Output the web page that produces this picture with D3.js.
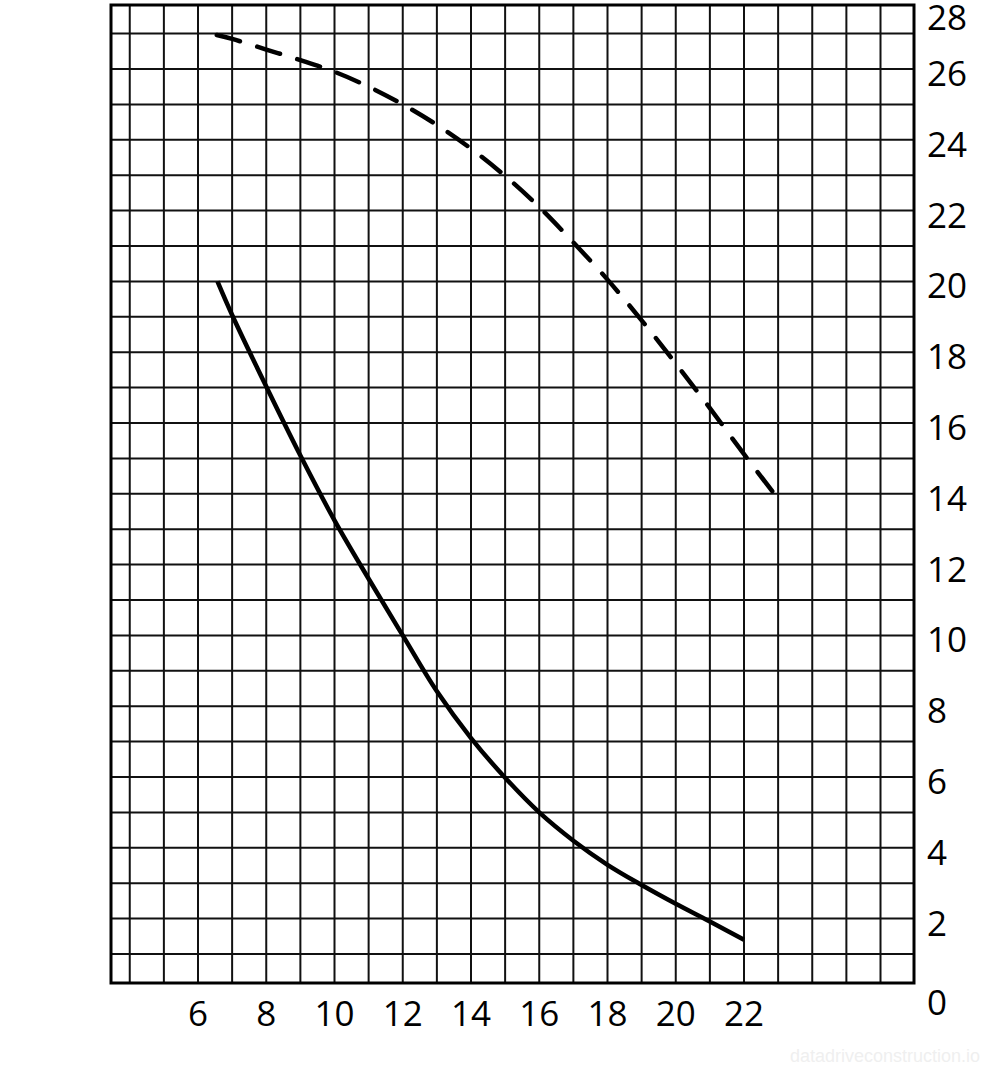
<!DOCTYPE html>
<html>
<head>
<meta charset="utf-8">
<script src="https://cdn.jsdelivr.net/npm/d3@7/dist/d3.min.js"></script>
<style>
    html, body { margin: 0; padding: 0; background: #ffffff; }
    #chart { width: 992px; height: 1072px; }
</style>
</head>
<body>
<div id="chart"></div>
<script>
// Values
const xTickLabels = [6, 8, 10, 12, 14, 16, 18, 20, 22];
const yTickLabels = [0, 2, 4, 6, 8, 10, 12, 14, 16, 18, 20, 22, 24, 26, 28];

// Solid curve
const solidX = [6.57, 7, 8, 9, 10, 11, 12, 13, 14, 15, 16, 17, 18, 19, 20, 21, 22];
const solidY = [20.0, 19.05, 17.03, 15.08, 13.25, 11.6, 10.0, 8.42, 7.1, 5.98, 5.0, 4.2, 3.52, 2.95, 2.42, 1.92, 1.4];

// Dashed curve
const dashedX = [6.55, 7, 8, 9, 10, 11, 12, 13, 14, 15, 16, 17, 18, 19, 20, 21, 22, 22.95];
const dashedY = [26.96, 26.85, 26.55, 26.25, 25.92, 25.5, 25.0, 24.42, 23.75, 22.98, 22.1, 21.1, 20.05, 18.9, 17.68, 16.42, 15.12, 13.92];

function drawChart() {
    const container = d3.select('#chart');
    container.selectAll('*').remove();

    const W = 992, H = 1072;
    // plot frame
    const frame = { left: 111, top: 5, right: 914, bottom: 983 };

    const svg = container.append('svg')
        .attr('width', W)
        .attr('height', H)
        .style('font-family', '"Open Sans", "Noto Sans", sans-serif');

    svg.append('rect')
        .attr('width', W)
        .attr('height', H)
        .attr('fill', '#ffffff');

    const x = d3.scaleLinear().domain([4, 26]).range([129.75, 880.5]);
    const y = d3.scaleLinear().domain([0, 28]).range([989.4, -1.8]);

    // Grid
    const grid = svg.append('g').attr('class', 'grid')
        .attr('stroke', '#111')
        .attr('stroke-width', 2);

    grid.selectAll('.vline')
        .data(d3.range(4, 27))
        .enter()
        .append('line')
        .attr('class', 'vline')
        .attr('x1', d => x(d))
        .attr('x2', d => x(d))
        .attr('y1', frame.top)
        .attr('y2', frame.bottom);

    grid.selectAll('.hline')
        .data(d3.range(1, 28))
        .enter()
        .append('line')
        .attr('class', 'hline')
        .attr('x1', frame.left)
        .attr('x2', frame.right)
        .attr('y1', d => y(d))
        .attr('y2', d => y(d));

    // Frame
    svg.append('rect')
        .attr('x', frame.left)
        .attr('y', frame.top)
        .attr('width', frame.right - frame.left)
        .attr('height', frame.bottom - frame.top)
        .attr('fill', 'none')
        .attr('stroke', '#000')
        .attr('stroke-width', 3);

    // Curves
    const line = d3.line()
        .x(d => x(d[0]))
        .y(d => y(d[1]))
        .curve(d3.curveCatmullRom.alpha(0.5));

    svg.append('path')
        .datum(solidX.map((v, i) => [v, solidY[i]]))
        .attr('d', line)
        .attr('fill', 'none')
        .attr('stroke', '#000')
        .attr('stroke-width', 4.5);

    svg.append('path')
        .datum(dashedX.map((v, i) => [v, dashedY[i]]))
        .attr('d', line)
        .attr('fill', 'none')
        .attr('stroke', '#000')
        .attr('stroke-width', 4.5)
        .attr('stroke-linecap', 'round')
        .attr('stroke-dasharray', '24,18');

    // X tick labels
    svg.selectAll('.xlabel')
        .data(xTickLabels)
        .enter()
        .append('text')
        .attr('class', 'xlabel')
        .attr('x', d => x(d))
        .attr('y', 1026)
        .attr('text-anchor', 'middle')
        .style('font-size', '35px')
        .style('fill', '#000')
        .text(d => d);

    // Y tick labels (right side)
    const labelY = v => v === 0 ? y(v) + 26 : Math.max(y(v) + 17, 30);
    svg.selectAll('.ylabel')
        .data(yTickLabels)
        .enter()
        .append('text')
        .attr('class', 'ylabel')
        .attr('x', 927)
        .attr('y', d => labelY(d))
        .attr('text-anchor', 'start')
        .style('font-size', '35px')
        .style('fill', '#000')
        .text(d => d);

    // faint watermark
    svg.append('text')
        .attr('x', 980)
        .attr('y', 1062)
        .attr('text-anchor', 'end')
        .style('font-family', '"Liberation Sans", Arial, sans-serif')
        .style('font-size', '18px')
        .style('fill', '#efefef')
        .text('datadriveconstruction.io');
}

drawChart();
</script>
</body>
</html>
